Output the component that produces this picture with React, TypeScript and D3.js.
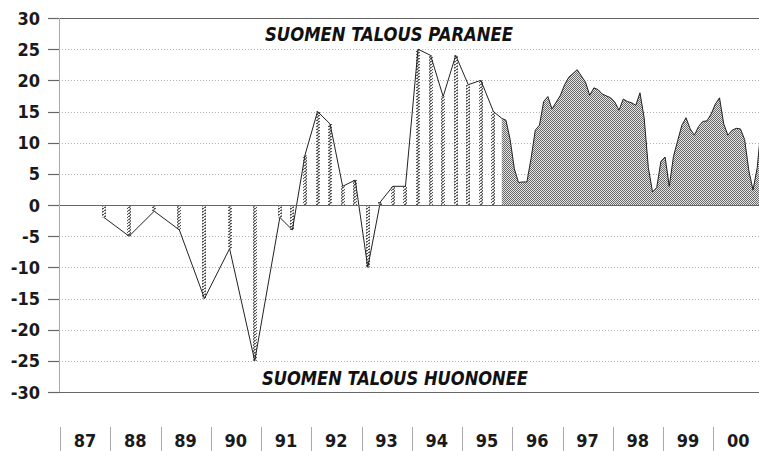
import React, { useEffect, useRef } from 'react';
import * as d3 from 'd3';

// half-yearly / quarterly survey points (drawn as hatched bars)
const sparseMonths = [
  '1987-11', '1988-05', '1988-11', '1989-05', '1989-11', '1990-05', '1990-11',
  '1991-05', '1991-08', '1991-11', '1992-02', '1992-05', '1992-08', '1992-11',
  '1993-02', '1993-05', '1993-08', '1993-11', '1994-02', '1994-05', '1994-08',
  '1994-11', '1995-02', '1995-05', '1995-08',
];
const sparseValues = [
  -2, -5, -1, -4, -15, -7, -25,
  -2, -4, 8, 15, 13, 3, 4,
  -10, 0.5, 3, 3, 25, 24, 17.4,
  24, 19.3, 20, 15,
];

// monthly points from Oct 1995 on (drawn as a filled area)
const monthlyStart = '1995-10';
const monthlyValues = [
  13.9, 13.6, 10.5,
  5.8, 3.6, 3.7, 3.7, 7.5, 12.0, 12.8, 16.6, 17.4, 15.4, 16.5, 17.6,
  19.3, 20.5, 21.1, 21.7, 20.7, 19.7, 17.6, 18.8, 18.5, 17.8, 17.5, 17.2,
  16.5, 15.2, 17.0, 16.6, 16.4, 16.0, 18.0, 14.0, 6.0, 2.1, 2.8, 7.0,
  7.7, 3.0, 7.8, 10.3, 12.8, 14.0, 12.2, 11.2, 12.6, 13.4, 13.5, 14.6,
  16.2, 17.2, 13.0, 11.2, 12.0, 12.3, 12.2, 10.5, 5.5, 2.4, 6.0, 13.0,
];

const yTicks = [30, 25, 20, 15, 10, 5, 0, -5, -10, -15, -20, -25, -30];
const yearLabels = ['87', '88', '89', '90', '91', '92', '93', '94', '95', '96', '97', '98', '99', '00'];
const upText = 'SUOMEN TALOUS PARANEE';
const downText = 'SUOMEN TALOUS HUONONEE';

const W = 759;
const H = 451;
const FONT = "'Liberation Sans Narrow', 'DejaVu Sans Condensed', 'Roboto', sans-serif";

const toYear = (s: string) => {
  const [y, m] = s.split('-').map(Number);
  return y + (m - 0.5) / 12;
};

const App = () => {
  const ref = useRef<SVGGElement>(null);

  useEffect(() => {
    document.body.style.margin = '0';
    const g = d3.select(ref.current);
    g.selectAll('*').remove();

    const x = d3.scaleLinear().domain([1987, 2001]).range([60, 60 + 14 * 50.25]);
    const y = d3.scaleLinear().domain([-30, 30]).range([392, 18]);

    const sparse = sparseMonths.map((m, i) => ({ t: toYear(m), v: sparseValues[i] }));
    const t0 = toYear(monthlyStart);
    const monthly = monthlyValues.map((v, i) => ({ t: t0 + i / 12, v }));
    const all = sparse.concat(monthly);

    // gridlines
    g.append('g')
      .selectAll('line')
      .data(yTicks.filter((d) => d !== 0 && Math.abs(d) !== 30))
      .join('line')
      .attr('x1', 59)
      .attr('x2', W)
      .attr('y1', (d) => Math.round(y(d)) + 0.5)
      .attr('y2', (d) => Math.round(y(d)) + 0.5)
      .attr('stroke', '#b0b0b0')
      .attr('stroke-dasharray', '1,2');

    // area for monthly data
    const area = d3
      .area<{ t: number; v: number }>()
      .x((d) => x(d.t))
      .y0(y(0))
      .y1((d) => y(d.v));
    g.append('path')
      .datum(monthly)
      .attr('d', area)
      .attr('fill', 'url(#dots)');

    // hatched bars for sparse data
    g.append('g')
      .selectAll('rect')
      .data(sparse)
      .join('rect')
      .attr('x', (d) => Math.round(x(d.t)) - 2)
      .attr('width', 4)
      .attr('y', (d) => Math.min(y(d.v), y(0)))
      .attr('height', (d) => Math.abs(y(d.v) - y(0)))
      .attr('fill', 'url(#bars)');

    const line = d3
      .line<{ t: number; v: number }>()
      .x((d) => x(d.t))
      .y((d) => y(d.v));
    g.append('path')
      .datum(all)
      .attr('d', line)
      .attr('fill', 'none')
      .attr('stroke', '#222')
      .attr('stroke-width', 1);

    // frame lines: top, zero, bottom
    g.append('g')
      .selectAll('line')
      .data([30, 0, -30])
      .join('line')
      .attr('x1', 48)
      .attr('x2', W)
      .attr('y1', (d) => Math.round(y(d)) + 0.5)
      .attr('y2', (d) => Math.round(y(d)) + 0.5)
      .attr('stroke', '#666')
      .attr('stroke-width', 1.2);

    // left axis
    g.append('line')
      .attr('x1', 59.5)
      .attr('x2', 59.5)
      .attr('y1', y(30))
      .attr('y2', y(-30))
      .attr('stroke', '#aaa');

    // y ticks + labels
    const yt = g.append('g').selectAll('g').data(yTicks).join('g');
    yt.append('line')
      .attr('x1', 48)
      .attr('x2', 59)
      .attr('y1', (d) => Math.round(y(d)) + 0.5)
      .attr('y2', (d) => Math.round(y(d)) + 0.5)
      .attr('stroke', '#666')
      .attr('stroke-width', 1.2);
    yt.append('text')
      .attr('x', 40)
      .attr('y', (d) => y(d) + 6.5)
      .attr('text-anchor', 'end')
      .style('font-family', FONT)
      .style('font-size', '18px')
      .style('font-weight', 'bold')
      .style('fill', '#1a1a1a')
      .text((d) => d);

    // year separators and labels
    const years = d3.range(yearLabels.length);
    g.append('g')
      .selectAll('line')
      .data(years)
      .join('line')
      .attr('x1', (i) => Math.round(x(1987 + i)) + 0.5)
      .attr('x2', (i) => Math.round(x(1987 + i)) + 0.5)
      .attr('y1', 427)
      .attr('y2', H)
      .attr('stroke', '#aaa');
    g.append('g')
      .selectAll('text')
      .data(years)
      .join('text')
      .attr('x', (i) => x(1987.5 + i))
      .attr('y', 447)
      .attr('text-anchor', 'middle')
      .style('font-family', FONT)
      .style('font-size', '18px')
      .style('font-weight', 'bold')
      .style('fill', '#1a1a1a')
      .text((i) => yearLabels[i]);

    // captions
    const caption = (txt: string, x0: number, yb: number, len: number) =>
      g.append('text')
        .attr('x', x0)
        .attr('y', yb)
        .attr('textLength', len)
        .attr('lengthAdjust', 'spacingAndGlyphs')
        .style('font-family', FONT)
        .style('font-size', '20px')
        .style('font-style', 'italic')
        .style('font-weight', 'bold')
        .style('fill', '#111')
        .text(txt);
    caption(upText, 265, 41, 248);
    caption(downText, 262, 385, 266);
  }, []);

  return (
    <div style={{ position: 'absolute', left: 0, top: 0 }}>
      <svg width={W} height={H} style={{ display: 'block', background: '#fff' }}>
        <defs>
          <pattern id="dots" width="2" height="2" patternUnits="userSpaceOnUse">
            <rect width="2" height="2" fill="#e4e4e4" />
            <rect width="1" height="1" fill="#6a6a6a" />
            <rect x="1" y="1" width="1" height="1" fill="#6a6a6a" />
          </pattern>
          <pattern id="bars" width="4" height="3" patternUnits="userSpaceOnUse">
            <rect width="4" height="3" fill="#eee" />
            <rect x="0" y="0" width="2" height="1" fill="#555" />
            <rect x="2" y="1" width="2" height="1" fill="#555" />
            <rect x="1" y="2" width="2" height="1" fill="#888" />
          </pattern>
        </defs>
        <g ref={ref} />
      </svg>
    </div>
  );
};

export default App;
